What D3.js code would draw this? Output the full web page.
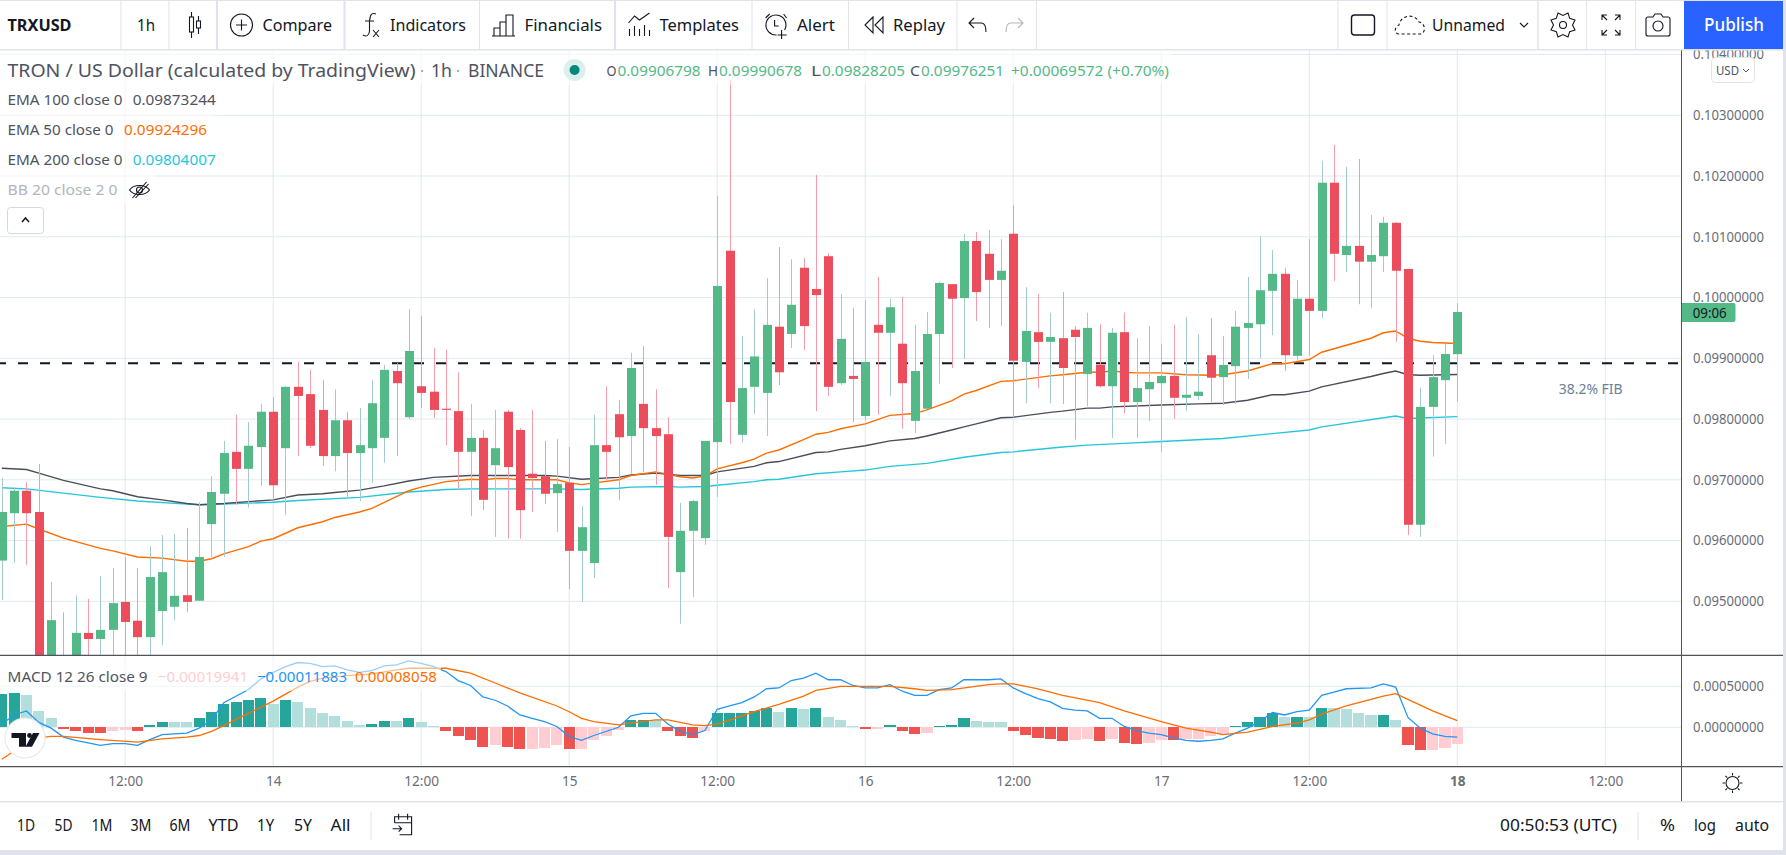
<!DOCTYPE html>
<html>
<head>
<meta charset="utf-8">
<title>TRXUSD</title>
<script src="https://cdnjs.cloudflare.com/ajax/libs/d3/7.8.5/d3.min.js"></script>
<style>
    html, body { margin: 0; padding: 0; background: #e0e3eb; overflow: hidden; }
    svg { display: block; }
    text { font-family: "Noto Sans", sans-serif; }
</style>
</head>
<body>
<svg id="chart" width="1786" height="855"></svg>
<script>
// hourly bars, first bar is the 13th 02:00, last one the 18th 00:00
const firstHour = 2

const opens = [0.09567,0.09645,0.09682,0.09647,0.09400,0.09400,0.09380,0.09448,0.09438,0.09453,0.09499,0.09468,0.09441,0.09484,0.09491,0.09510,0.09501,0.09627,0.09677,0.09746,
    0.09718,0.09754,0.09812,0.09752,0.09853,0.09841,0.09815,0.09739,0.09798,0.09744,0.09752,0.09769,0.09879,0.09803,0.09854,0.09845,0.09817,0.09813,0.09746,0.09769,
    0.09724,0.09812,0.09782,0.09710,0.09706,0.09678,0.09695,0.09583,0.09563,0.09757,0.09808,0.09772,0.09825,0.09785,0.09775,0.09548,0.09616,0.09604,0.09762,0.10077,
    0.09774,0.09853,0.09843,0.09952,0.09940,0.10049,0.10014,0.10068,0.09859,0.09871,0.09805,0.09955,0.09942,0.09924,0.09797,0.09817,0.09940,0.10022,0.09999,0.10093,
    0.10072,0.10029,0.10105,0.09894,0.09943,0.09927,0.09933,0.09947,0.09874,0.09889,0.09854,0.09943,0.09828,0.09849,0.09859,0.09871,0.09835,0.09838,0.09905,0.09869,
    0.09887,0.09950,0.09956,0.10011,0.10039,0.09904,0.09998,0.09978,0.10189,0.10070,0.10085,0.10059,0.10068,0.10123,0.10047,0.09626,0.09820,0.09864,0.09906798]
const highs = [0.09703,0.09688,0.09696,0.09726,0.09532,0.09482,0.09510,0.09504,0.09542,0.09555,0.09573,0.09555,0.09591,0.09609,0.09611,0.09621,0.09663,0.09706,0.09764,0.09807,
    0.09795,0.09825,0.09836,0.09854,0.09894,0.09881,0.09864,0.09849,0.09812,0.09818,0.09864,0.09889,0.09892,0.09981,0.09970,0.09917,0.09914,0.09877,0.09825,0.09782,
    0.09815,0.09815,0.09785,0.09815,0.09764,0.09767,0.09754,0.09657,0.09807,0.09854,0.09831,0.09909,0.09920,0.09849,0.09803,0.09662,0.09667,0.09764,0.10167,0.10358,
    0.09937,0.09981,0.10032,0.10083,0.10063,0.10065,0.10202,0.10073,0.10006,0.09983,0.09996,0.10034,0.09998,0.10001,0.09955,0.09976,0.10026,0.10022,0.10105,0.10108,
    0.10111,0.10096,0.10152,0.10017,0.10006,0.09975,0.10009,0.09953,0.09975,0.09956,0.09950,0.09975,0.09933,0.09953,0.09924,0.09955,0.09968,0.09940,0.09966,0.09937,
    0.09978,0.10034,0.10101,0.10078,0.10049,0.10029,0.10096,0.10225,0.10251,0.10215,0.10228,0.10136,0.10133,0.10124,0.10047,0.09851,0.09905,0.09924,0.09990678]
const lows = [0.09502,0.09563,0.09560,0.09360,0.09380,0.09360,0.09360,0.09380,0.09390,0.09395,0.09390,0.09390,0.09395,0.09428,0.09469,0.09482,0.09501,0.09573,0.09573,0.09659,
    0.09654,0.09690,0.09667,0.09642,0.09739,0.09752,0.09723,0.09714,0.09672,0.09665,0.09695,0.09728,0.09739,0.09800,0.09818,0.09802,0.09757,0.09685,0.09640,0.09650,
    0.09606,0.09603,0.09603,0.09647,0.09660,0.09614,0.09520,0.09499,0.09538,0.09700,0.09667,0.09710,0.09713,0.09692,0.09522,0.09463,0.09507,0.09593,0.09672,0.09759,
    0.09761,0.09808,0.09772,0.09856,0.09917,0.09914,0.09813,0.09838,0.09856,0.09795,0.09798,0.09807,0.09838,0.09784,0.09777,0.09817,0.09858,0.09884,0.09899,0.09961,
    0.09950,0.09953,0.09802,0.09826,0.09851,0.09826,0.09825,0.09766,0.09821,0.09852,0.09769,0.09810,0.09769,0.09797,0.09746,0.09800,0.09813,0.09831,0.09828,0.09823,
    0.09825,0.09866,0.09900,0.09938,0.09879,0.09897,0.09904,0.09966,0.10027,0.10042,0.09989,0.09983,0.10042,0.09927,0.09609,0.09606,0.09738,0.09759,0.09828205]
const closes = [0.09647,0.09682,0.09645,0.09387,0.09469,0.09380,0.09448,0.09438,0.09453,0.09497,0.09466,0.09441,0.09540,0.09548,0.09509,0.09499,0.09573,0.09680,0.09744,0.09718,
    0.09756,0.09812,0.09691,0.09853,0.09838,0.09756,0.09739,0.09798,0.09744,0.09757,0.09826,0.09881,0.09859,0.09912,0.09843,0.09815,0.09815,0.09746,0.09769,0.09667,
    0.09752,0.09721,0.09650,0.09703,0.09677,0.09693,0.09583,0.09622,0.09757,0.09746,0.09770,0.09884,0.09785,0.09772,0.09606,0.09616,0.09665,0.09764,0.10019,0.09828,
    0.09851,0.09903,0.09955,0.09877,0.09988,0.09953,0.10004,0.09853,0.09932,0.09866,0.09894,0.09942,0.09984,0.09859,0.09879,0.09940,0.10024,0.09998,0.10093,0.10009,
    0.10029,0.10044,0.09896,0.09945,0.09927,0.09935,0.09884,0.09935,0.09950,0.09854,0.09942,0.09828,0.09851,0.09861,0.09871,0.09835,0.09840,0.09845,0.09868,0.09889,
    0.09952,0.09958,0.10012,0.10039,0.09905,0.09998,0.09978,0.10189,0.10072,0.10085,0.10059,0.10070,0.10123,0.10044,0.09626,0.09820,0.09869,0.09907,0.09976251]

// moving averages, read at the bars where the line bends
const ema100Bars = [0,2,3,5,8,9,11,13,15,16,18,20,22,24,26,27,29,31,33,35,38,41,44,45,47,50,51,53,55,57,58,61,62,63,66,67,68,70,72,74,75,77,78,79,81,82,85,86,88,89,90,94,97,99,101,103,104,106,107,111,112,113,114,115,118]
const ema100 = [0.09719,0.09717,0.09711,0.09699,0.09685,0.09682,0.09672,0.09667,0.09661,0.09659,0.09661,0.09664,0.09667,0.09675,0.09677,0.09679,0.09683,0.09690,0.09698,0.09704,0.09707,0.09707,0.09707,0.09706,0.09701,0.09704,0.09708,0.09711,0.09707,0.09707,0.09713,0.09722,0.09728,0.09730,0.09745,0.09746,0.09750,0.09756,0.09764,0.09768,0.09772,0.09782,0.09787,0.09792,0.09802,0.09803,0.09811,0.09813,0.09818,0.09818,0.09820,0.09823,0.09825,0.09826,0.09831,0.09840,0.09840,0.09846,0.09853,0.09870,0.09875,0.09879,0.09873,0.09872,0.09873244]
const ema200Bars = [0,2,5,8,11,15,16,18,22,24,29,33,36,38,45,47,50,51,54,55,57,58,61,62,63,66,68,70,72,75,78,81,82,86,88,91,94,99,103,106,107,113,114,118]
const ema200 = [0.09687,0.09685,0.09678,0.09671,0.09665,0.09660,0.09659,0.09660,0.09663,0.09666,0.09671,0.09680,0.09684,0.09685,0.09685,0.09684,0.09686,0.09688,0.09689,0.09688,0.09689,0.09691,0.09697,0.09700,0.09701,0.09710,0.09713,0.09716,0.09722,0.09727,0.09737,0.09745,0.09746,0.09754,0.09757,0.09760,0.09763,0.09768,0.09776,0.09782,0.09787,0.09805,0.09801,0.09804007]
const ema50Bars = [0,2,3,5,8,9,11,13,15,16,17,18,20,21,22,24,26,27,29,30,33,34,36,38,39,40,41,42,45,46,47,50,51,53,55,56,57,58,60,61,62,63,65,66,67,68,70,72,74,75,77,78,79,81,82,85,86,88,89,90,91,92,94,96,98,99,101,103,104,106,107,111,112,113,114,115,116,118]
const ema50 = [0.09623,0.09627,0.09619,0.09604,0.09587,0.09583,0.09573,0.09571,0.09566,0.09566,0.09570,0.09578,0.09590,0.09599,0.09603,0.09621,0.09631,0.09638,0.09647,0.09653,0.09682,0.09688,0.09697,0.09701,0.09700,0.09702,0.09702,0.09700,0.09700,0.09695,0.09692,0.09700,0.09707,0.09713,0.09705,0.09703,0.09706,0.09718,0.09728,0.09734,0.09744,0.09749,0.09766,0.09775,0.09778,0.09784,0.09792,0.09806,0.09809,0.09815,0.09830,0.09841,0.09847,0.09862,0.09863,0.09871,0.09873,0.09877,0.09877,0.09879,0.09877,0.09876,0.09876,0.09873,0.09872,0.09873,0.09879,0.09891,0.09891,0.09898,0.09910,0.09933,0.09942,0.09945,0.09933,0.09928,0.09926,0.09924296]

const priceTicks = [0.095,0.096,0.097,0.098,0.099,0.100,0.101,0.102,0.103,0.104]
const fibLevel = 0.09892

// MACD pane
const histogram = [0.00041,0.00042,0.00039,0.00020,0.00011,-0.00002,-0.00004,-0.00007,-0.00007,-0.00004,-0.00003,-0.00004,0.00003,0.00007,0.00007,0.00007,0.00011,0.00019,0.00029,0.00031,
    0.00033,0.00036,0.00029,0.00033,0.00031,0.00024,0.00017,0.00014,0.00008,0.00003,0.00004,0.00008,0.00008,0.00011,0.00007,0.00001,-0.00004,-0.00011,-0.00015,-0.00024,
    -0.00022,-0.00024,-0.00027,-0.00026,-0.00025,-0.00022,-0.00027,-0.00027,-0.00016,-0.00010,-0.00003,0.00009,0.00009,0.00009,-0.00005,-0.00011,-0.00013,-0.00005,0.00017,0.00017,
    0.00017,0.00020,0.00024,0.00019,0.00023,0.00022,0.00023,0.00012,0.00009,0.00002,-0.00002,-0.00002,0.00003,-0.00005,-0.00008,-0.00007,0.00001,0.00003,0.00011,0.00008,
    0.00007,0.00007,-0.00005,-0.00009,-0.00013,-0.00014,-0.00017,-0.00016,-0.00014,-0.00017,-0.00014,-0.00019,-0.00020,-0.00019,-0.00016,-0.00016,-0.00014,-0.00014,-0.00010,-0.00008,
    0.00002,0.00007,0.00013,0.00018,0.00012,0.00013,0.00012,0.00024,0.00023,0.00022,0.00018,0.00015,0.00015,0.00009,-0.00022,-0.00028,-0.00028,-0.00025,-0.00019941]
// 1 = solid colour, 0 = faded colour of the histogram column
const histogramSolid = [1,1,0,0,0,1,1,1,1,0,0,1,1,1,0,0,1,1,1,1,
    1,1,0,1,0,0,0,0,0,0,1,1,0,1,0,0,1,1,1,1,
    0,1,1,0,0,0,1,0,0,0,0,1,1,0,1,1,1,0,1,1,
    1,1,1,0,1,0,1,0,0,0,1,0,1,1,1,0,1,1,1,0,
    0,0,1,1,1,1,1,0,0,1,0,1,1,0,0,1,0,0,0,0,
    1,1,1,1,0,1,0,1,0,0,0,0,1,0,1,1,0,0,0]
const macdBars = [0,1,2,3,4,5,6,8,9,10,11,12,13,15,16,17,18,20,21,22,23,24,25,26,27,28,29,30,31,32,33,34,35,36,37,38,39,40,41,42,43,44,45,46,47,48,50,51,52,53,54,55,56,57,58,59,60,61,62,63,64,65,66,67,68,69,70,71,72,73,74,75,76,77,78,79,80,81,82,83,84,85,86,87,88,89,90,91,92,93,94,95,96,97,98,99,100,101,102,103,104,105,106,107,108,109,111,112,113,114,115,116,117,118]
const macdLine = [0.00004,0.00015,0.00020,0.00006,-0.00001,-0.00012,-0.00016,-0.00022,-0.00020,-0.00020,-0.00022,-0.00015,-0.00009,-0.00007,-0.00001,0.00009,0.00030,0.00046,0.00059,0.00067,0.00074,0.00079,0.00078,0.00074,0.00075,0.00070,0.00067,0.00069,0.00075,0.00076,0.00081,0.00078,0.00074,0.00068,0.00057,0.00051,0.00037,0.00033,0.00026,0.00015,0.00011,0.00007,0.00001,-0.00011,-0.00016,-0.00010,0.00000,0.00014,0.00017,0.00017,0.00004,-0.00005,-0.00009,-0.00004,0.00022,0.00026,0.00030,0.00037,0.00047,0.00048,0.00057,0.00060,0.00066,0.00058,0.00058,0.00051,0.00048,0.00048,0.00052,0.00044,0.00039,0.00039,0.00046,0.00048,0.00058,0.00058,0.00058,0.00059,0.00048,0.00041,0.00035,0.00031,0.00023,0.00021,0.00020,0.00011,0.00011,0.00001,-0.00004,-0.00007,-0.00009,-0.00013,-0.00016,-0.00017,-0.00016,-0.00014,-0.00007,-0.00001,0.00007,0.00018,0.00015,0.00019,0.00021,0.00039,0.00043,0.00047,0.00048,0.00053,0.00049,0.00012,-0.00001,-0.00008,-0.00011,-0.00011883]
const signalBars = [0,1,3,4,5,8,11,13,15,16,17,18,20,22,24,25,26,28,30,32,33,35,36,38,40,42,45,46,47,48,50,51,53,54,56,57,58,60,61,63,65,66,68,72,74,75,77,80,81,82,84,86,89,91,94,96,98,99,101,103,105,106,107,109,111,112,113,114,116,118]
const signalLine = [-0.00039,-0.00029,-0.00013,-0.00011,-0.00011,-0.00015,-0.00018,-0.00014,-0.00012,-0.00010,-0.00005,0.00002,0.00017,0.00032,0.00049,0.00056,0.00060,0.00063,0.00065,0.00070,0.00072,0.00072,0.00072,0.00066,0.00054,0.00042,0.00026,0.00019,0.00011,0.00007,0.00003,0.00005,0.00009,0.00009,0.00003,0.00002,0.00004,0.00014,0.00019,0.00028,0.00038,0.00045,0.00050,0.00050,0.00047,0.00045,0.00046,0.00052,0.00053,0.00053,0.00047,0.00039,0.00030,0.00020,0.00007,-0.00001,-0.00006,-0.00009,-0.00006,0.00001,0.00005,0.00009,0.00016,0.00026,0.00034,0.00038,0.00041,0.00034,0.00020,0.00008058]
const macdTicks = [0, 0.0005]

const timeTicks = [12,24,36,48,60,72,84,96,108,120,132]
const timeLabels = ['12:00','14','12:00','15','12:00','16','12:00','17','12:00','18','12:00']

const rangeButtons = ['1D','5D','1M','3M','6M','YTD','1Y','5Y','All']

const upColor = '#53b987'
const downColor = '#eb4d5c'
const gridColor = '#dfe9ef'
const paneLine = '#50535e'
const textDark = '#131722'
const textGrey = '#50535e'

const x = d3.scaleLinear().domain([2, 120]).range([1.8, 1457.3])
const y = d3.scaleLinear().domain([0.095, 0.104]).range([601.3, 54.5])
const yMacd = d3.scaleLinear().domain([0, 0.0005]).range([727.3, 686.3])
const barX = i => x(firstHour + i)

const svg = d3.select('#chart')

svg.append('rect').attr('x', 0).attr('y', 1).attr('width', 1783).attr('height', 849).attr('fill', '#fff')

const defs = svg.append('defs')
defs.append('clipPath').attr('id', 'main-clip').append('rect').attr('x', 0).attr('y', 50).attr('width', 1681).attr('height', 605)
defs.append('clipPath').attr('id', 'macd-clip').append('rect').attr('x', 0).attr('y', 656).attr('width', 1681).attr('height', 110)
defs.append('clipPath').attr('id', 'scale-clip').append('rect').attr('x', 1682).attr('y', 50).attr('width', 101).attr('height', 605)

// G R I D
const grid = svg.append('g').attr('stroke', gridColor).attr('stroke-width', 1)
grid.selectAll('line.v').data(timeTicks).enter().append('line')
    .attr('class', 'v')
    .attr('x1', d => x(d)).attr('x2', d => x(d))
    .attr('y1', 50).attr('y2', 766)
grid.selectAll('line.h').data(priceTicks).enter().append('line')
    .attr('class', 'h')
    .attr('x1', 0).attr('x2', 1681)
    .attr('y1', d => y(d)).attr('y2', d => y(d))
grid.selectAll('line.m').data(macdTicks).enter().append('line')
    .attr('class', 'm')
    .attr('x1', 0).attr('x2', 1681)
    .attr('y1', d => yMacd(d)).attr('y2', d => yMacd(d))

// M A I N  P A N E
const main = svg.append('g').attr('clip-path', 'url(#main-clip)')

main.append('line')
    .attr('x1', -4).attr('x2', 1678)
    .attr('y1', y(fibLevel)).attr('y2', y(fibLevel))
    .attr('stroke', textDark)
    .attr('stroke-width', 2)
    .attr('stroke-dasharray', '10 12')

const priceLine = d3.line().x(d => barX(d[0])).y(d => y(d[1]))
const drawEma = (bars, values, color) => {
    main.append('path')
        .attr('d', priceLine(bars.map((b, i) => [b, values[i]])))
        .attr('fill', 'none')
        .attr('stroke', color)
        .attr('stroke-width', 1.4)
}
drawEma(ema200Bars, ema200, '#26c6da')
drawEma(ema100Bars, ema100, '#4a4d5a')
drawEma(ema50Bars, ema50, '#ff6d00')

const candles = main.selectAll('g.candle')
    .data(d3.range(opens.length))
    .enter()
    .append('g')
    .attr('class', 'candle')

candles.append('line')
    .attr('x1', i => Math.round(barX(i)) + 0.5)
    .attr('x2', i => Math.round(barX(i)) + 0.5)
    .attr('y1', i => y(highs[i]))
    .attr('y2', i => y(lows[i]))
    .attr('stroke', i => closes[i] >= opens[i] ? '#a3cbce' : '#f59cab')
    .attr('stroke-width', 1)

candles.append('rect')
    .attr('x', i => Math.round(barX(i)) - 4)
    .attr('width', 9)
    .attr('y', i => y(Math.max(opens[i], closes[i])))
    .attr('height', i => Math.max(1, Math.abs(y(opens[i]) - y(closes[i]))))
    .attr('fill', i => closes[i] >= opens[i] ? upColor : downColor)

// M A C D  P A N E
const macdPane = svg.append('g').attr('clip-path', 'url(#macd-clip)')

macdPane.selectAll('rect')
    .data(histogram)
    .enter()
    .append('rect')
    .attr('x', (d, i) => barX(i) - 5.6)
    .attr('width', 11.2)
    .attr('y', d => Math.min(yMacd(d), yMacd(0)))
    .attr('height', d => Math.abs(yMacd(d) - yMacd(0)))
    .attr('shape-rendering', 'crispEdges')
    .attr('fill', (d, i) => d >= 0
        ? (histogramSolid[i] ? '#26a69a' : '#b2dfdb')
        : (histogramSolid[i] ? '#ef5350' : '#ffcdd2'))

const macdPath = d3.line().x(d => barX(d[0])).y(d => yMacd(d[1]))
macdPane.append('path')
    .attr('d', macdPath(macdBars.map((b, i) => [b, macdLine[i]])))
    .attr('fill', 'none').attr('stroke', '#2196f3').attr('stroke-width', 1.3)
macdPane.append('path')
    .attr('d', macdPath(signalBars.map((b, i) => [b, signalLine[i]])))
    .attr('fill', 'none').attr('stroke', '#ff6d00').attr('stroke-width', 1.3)

// pane separators
const seps = svg.append('g')
seps.selectAll('line').data([655.3, 766.7]).enter().append('line')
    .attr('x1', 0).attr('x2', 1783)
    .attr('y1', d => d).attr('y2', d => d)
    .attr('stroke', paneLine).attr('stroke-width', 1.3)

// A X E S
const styleAxis = g => {
    g.select('.domain').remove()
    g.selectAll('text')
        .attr('fill', '#6a6d78')
        .style('font-size', '13.6px')
        .attr('textLength', 71)
        .attr('lengthAdjust', 'spacingAndGlyphs')
}
svg.append('g')
    .attr('clip-path', 'url(#scale-clip)')
    .append('g')
    .attr('transform', 'translate(1682,0)')
    .call(d3.axisRight(y).tickValues(priceTicks).tickFormat(d3.format('.8f')).tickSize(0).tickPadding(11))
    .call(styleAxis)
svg.append('g')
    .attr('transform', 'translate(1682,0)')
    .call(d3.axisRight(yMacd).tickValues(macdTicks).tickFormat(d3.format('.8f')).tickSize(0).tickPadding(11))
    .call(styleAxis)

const timeAxis = svg.append('g')
    .attr('transform', 'translate(0,767)')
    .call(d3.axisBottom(x).tickValues(timeTicks).tickFormat((d, i) => timeLabels[i]).tickSize(0).tickPadding(9))
timeAxis.select('.domain').remove()
timeAxis.selectAll('text')
    .attr('fill', '#6a6d78')
    .style('font-size', '13.6px')
    .style('font-weight', d => d === 120 ? 700 : 400)

svg.append('line').attr('x1', 1681.5).attr('x2', 1681.5).attr('y1', 50).attr('y2', 802).attr('stroke', paneLine).attr('stroke-width', 1)
svg.append('line').attr('x1', 0).attr('x2', 1783).attr('y1', 801.7).attr('y2', 801.7).attr('stroke', '#e0e3eb').attr('stroke-width', 1.5)

// T E X T  H E L P E R
const label = (text, px, py, o = {}) => {
    const t = svg.append('text')
        .attr('x', px)
        .attr('y', py)
        .attr('dy', '0.35em')
        .attr('fill', o.color || textGrey)
        .attr('text-anchor', o.anchor || 'start')
        .style('font-size', (o.size || 14) + 'px')
        .style('font-weight', o.weight || 400)
        .text(text)
    if (o.width) {
        t.attr('textLength', o.width).attr('lengthAdjust', 'spacingAndGlyphs')
    }
    return t
}

// L E G E N D
// the legend rows sit on half transparent white, so the chart shows through faintly
const legendRows = [[1172, 50, 35], [221, 85, 30], [213, 115, 30], [221, 145, 30], [155, 175, 30], [441, 657, 34]]
svg.selectAll('rect.legend-row').data(legendRows).enter().append('rect')
    .attr('class', 'legend-row')
    .attr('x', 0)
    .attr('width', d => d[0])
    .attr('y', d => d[1])
    .attr('height', d => d[2])
    .attr('fill', '#fff')
    .attr('opacity', 0.55)

label('TRON / US Dollar (calculated by TradingView)', 7.5, 70.5, { size: 18, width: 408, color: '#4f5360' })
label('·', 420, 70.5, { size: 15, color: '#9598a1' })
label('1h', 431, 70.5, { size: 18, width: 21, color: '#4f5360' })
label('·', 456, 70.5, { size: 15, color: '#9598a1' })
label('BINANCE', 468, 70.5, { size: 18, width: 76, color: '#4f5360' })
svg.append('circle').attr('cx', 574.6).attr('cy', 70).attr('r', 11).attr('fill', '#dcefec')
svg.append('circle').attr('cx', 574.6).attr('cy', 70).attr('r', 5).attr('fill', '#00897b')

const ohlcRow = [['O', 606.5, '0.09906798'], ['H', 708, '0.09990678'], ['L', 811, '0.09828205'], ['C', 910, '0.09976251']]
ohlcRow.forEach(d => {
    label(d[0], d[1], 71, { size: 15, width: 10, color: '#50535e' })
    label(d[2], d[1] + 11, 71, { size: 15, width: 83, color: upColor })
})
label('+0.00069572 (+0.70%)', 1011, 71, { size: 15, width: 158, color: upColor })

label('EMA 100 close 0', 7.5, 100, { width: 115 })
label('0.09873244', 132.7, 100, { width: 83, size: 15 })
label('EMA 50 close 0', 7.5, 130, { width: 106 })
label('0.09924296', 124, 130, { width: 83, size: 15, color: '#ff6d00' })
label('EMA 200 close 0', 7.5, 160, { width: 115 })
label('0.09804007', 132.7, 160, { width: 83, size: 15, color: '#26c6da' })
label('BB 20 close 2 0', 7.5, 190, { width: 110, color: '#b2b5be' })

const outline = sel => sel.attr('fill', 'none').attr('stroke', textDark).attr('stroke-width', 1.1)

const eye = svg.append('g').attr('transform', 'translate(139.5,190)')
eye.append('path').attr('d', 'M-10 0C-6 -6 6 -6 10 0C6 6 -6 6 -10 0Z').call(outline)
eye.append('circle').attr('r', 3).call(outline)
eye.append('path').attr('d', 'M-7 8L7 -8M-4 8L9 -6').call(outline)

svg.append('rect').attr('x', 7.5).attr('y', 207.5).attr('width', 36).attr('height', 26).attr('rx', 3)
    .attr('fill', '#fff').attr('stroke', '#d6d8e0')
svg.append('path').attr('d', 'M22 222L25.5 218L29 222').attr('fill', 'none').attr('stroke', textDark).attr('stroke-width', 1.5)

label('MACD 12 26 close 9', 7.6, 677, { width: 140, size: 14.5 })
label('−0.00019941', 158, 677, { width: 90, size: 15, color: '#ffcdd2' })
label('−0.00011883', 257, 677, { width: 90, size: 15, color: '#2196f3' })
label('0.00008058', 355, 677, { width: 82, size: 15, color: '#ff6d00' })

label('38.2% FIB', 1590.7, 388.7, { anchor: 'middle', width: 64, color: '#6c7f96' })

// USD button and last price tag
svg.append('rect').attr('x', 1711.5).attr('y', 57.5).attr('width', 43).attr('height', 25).attr('rx', 4)
    .attr('fill', '#fff').attr('stroke', '#e0e3eb')
label('USD', 1716, 70, { size: 13, width: 23 })
svg.append('path').attr('d', 'M1743 69L1746 72L1749 69').attr('fill', 'none').attr('stroke', textGrey)

svg.append('path').attr('d', 'M1682 303H1733.5a2 2 0 0 1 2 2V320a2 2 0 0 1 -2 2H1682Z').attr('fill', upColor)
label('09:06', 1692.7, 313, { width: 34, size: 14, color: textDark })

// T R A D I N G V I E W  L O G O
svg.append('circle').attr('cx', 25).attr('cy', 738).attr('r', 20).attr('fill', '#fff').attr('stroke', '#e8e9ee').attr('stroke-width', 1.2)
svg.append('path').attr('d', 'M11.5 733H26V746.7H19V738H11.5ZM33 733H39.5L32 746.7H25.5Z').attr('fill', textDark)
svg.append('circle').attr('cx', 29.5).attr('cy', 735.5).attr('r', 2.4).attr('fill', textDark)

// T O O L B A R
const toolbarSeps = [[121, 1], [169, 1], [217, 2], [344.5, 2], [479.5, 1], [615, 2], [752, 1], [848.5, 1], [957, 1], [1036.5, 1], [1338, 1], [1387, 1], [1538, 1.5], [1586.6, 1], [1635.6, 1]]
svg.selectAll('line.tb').data(toolbarSeps).enter().append('line')
    .attr('class', 'tb')
    .attr('x1', d => d[0]).attr('x2', d => d[0])
    .attr('y1', 1).attr('y2', 49)
    .attr('stroke', '#e0e3eb').attr('stroke-width', d => d[1])
svg.append('rect').attr('x', 0).attr('y', 49).attr('width', 1783).attr('height', 1.5).attr('fill', '#e0e3eb')

label('TRXUSD', 7.5, 25, { size: 16, width: 64, weight: 700, color: textDark })
label('1h', 137, 25, { size: 16, width: 18, color: textDark })
label('Compare', 262.5, 25, { size: 16, width: 69.5, color: textDark })
label('Indicators', 390, 25, { size: 16, width: 76, color: textDark })
label('Financials', 524.5, 25, { size: 16, width: 77.5, color: textDark })
label('Templates', 659.5, 25, { size: 16, width: 79.5, color: textDark })
label('Alert', 797, 25, { size: 16, width: 38, color: textDark })
label('Replay', 893, 25, { size: 16, width: 52, color: textDark })
label('Unnamed', 1432, 25, { size: 16, width: 73, color: textDark })

svg.append('rect').attr('x', 1684).attr('y', 1).attr('width', 99).attr('height', 48).attr('fill', '#2962ff')
label('Publish', 1734, 25, { size: 18, width: 60, anchor: 'middle', color: '#fff', weight: 500 })

const icon = (px, py) => svg.append('g').attr('transform', `translate(${px},${py})`)

// candle type
const candleIcon = icon(195, 25)
candleIcon.append('rect').attr('x', -5.5).attr('y', -8).attr('width', 4).attr('height', 15).call(outline)
candleIcon.append('path').attr('d', 'M-3.5 -13V-8M-3.5 7V13M3.5 -9V-4M3.5 3V9').call(outline)
candleIcon.append('rect').attr('x', 1.5).attr('y', -4).attr('width', 4).attr('height', 7).call(outline)

// compare
const plusIcon = icon(241.5, 25)
plusIcon.append('circle').attr('r', 11).call(outline)
plusIcon.append('path').attr('d', 'M-5.5 0H5.5M0 -5.5V5.5').call(outline)

// indicators
const fxIcon = icon(370, 25)
fxIcon.append('path').attr('d', 'M6 -11C1 -13 0 -9 -0.5 -4V6C-1 11 -4 12 -7 10M-5 -4H4').call(outline)
fxIcon.append('path').attr('d', 'M3 5L9 12M9 5L3 12').call(outline)

// financials
icon(504, 25).append('path').attr('d', 'M-10 11V3H-4V11ZM-4 11V-3H2V11ZM2 11V-10H9V11ZM-12 11H11').call(outline)

// templates
const tplIcon = icon(639.5, 25)
tplIcon.append('path').attr('d', 'M-11 -2L-5 -9L0 -5L10 -12').call(outline)
tplIcon.append('path').attr('d', 'M-10 4V11M-5 1V11M0 4V11M5 0V11M10 5V11').call(outline)

// alert
const alertIcon = icon(775.6, 25)
alertIcon.append('path').attr('d', 'M1 10A10 10 0 1 1 9 5').call(outline)
alertIcon.append('path').attr('d', 'M-1 -5V1H3M-10 -7L-6 -11M8 -11L11 -7M6 5V14M2 10H11').call(outline)

// replay
icon(874, 25).append('path').attr('d', 'M-1 -8L-9 0L-1 8ZM9 -8L1 0L9 8Z').call(outline)

// undo, redo
icon(978, 25).append('path').attr('d', 'M-4 -7L-9 -2L-4 3M-9 -2H3C7 -2 8 2 8 7').call(outline)
icon(1014, 25).append('path').attr('d', 'M4 -7L9 -2L4 3M9 -2H-3C-7 -2 -8 2 -8 7').call(outline).attr('stroke', '#b2b5be')

// watchlist square, cloud
svg.append('rect').attr('x', 1351.5).attr('y', 15).attr('width', 23).attr('height', 20).attr('rx', 3).call(outline).attr('stroke-width', 1.4)
icon(1410, 25).append('path').attr('d', 'M-11 9C-16 9 -16 2 -11 0C-10 -9 4 -13 9 -3C16 -2 16 9 10 9Z').call(outline).attr('stroke-dasharray', '3 2.5')
icon(1524, 25).append('path').attr('d', 'M-4 -2L0 2L4 -2').call(outline)

// settings
const gearIcon = icon(1563, 25)
gearIcon.append('path').attr('d', d3.range(16).map(k => {
    const r = k % 2 ? 13 : 9.5
    const a = k * Math.PI / 8
    return (k ? 'L' : 'M') + (r * Math.cos(a)).toFixed(1) + ' ' + (r * Math.sin(a)).toFixed(1)
}).join('') + 'Z').call(outline)
gearIcon.append('circle').attr('r', 3.5).call(outline)

// fullscreen
icon(1611, 25).append('path').attr('d', 'M-9 -5V-10H-4M-9 -10L-4 -5M9 -5V-10H4M9 -10L4 -5M-9 5V10H-4M-9 10L-4 5M9 5V10H4M9 10L4 5').call(outline)

// screenshot
const camIcon = icon(1658, 25)
camIcon.append('path').attr('d', 'M-10 -8H-5L-3 -11H3L5 -8H10Q12 -8 12 -6V9Q12 11 10 11H-10Q-12 11 -12 9V-6Q-12 -8 -10 -8Z').call(outline)
camIcon.append('circle').attr('cy', 1).attr('r', 5).call(outline)

// B O T T O M  B A R
const rangeCenters = [26, 63.5, 102, 141, 180, 223.5, 265.6, 303, 340.6]
const rangeWidths = [18, 18, 21, 21, 21, 30, 17, 18, 20]
rangeButtons.forEach((d, i) => {
    label(d, rangeCenters[i], 825.7, { size: 15.5, anchor: 'middle', width: rangeWidths[i], color: textDark })
})
svg.append('line').attr('x1', 371).attr('x2', 371).attr('y1', 812).attr('y2', 840).attr('stroke', '#e0e3eb')
const calIcon = icon(402.6, 825.7)
calIcon.append('path').attr('d', 'M-8 -3V-9H9V9H-3M-8 -3H9M-4 -12V-6M5 -12V-6M-10 3H-1M-4 0L-1 3L-4 6').call(outline)

label('00:50:53 (UTC)', 1500, 825.7, { size: 16, width: 117, color: textDark })
svg.append('line').attr('x1', 1638).attr('x2', 1638).attr('y1', 812).attr('y2', 840).attr('stroke', '#e0e3eb')
label('%', 1667.4, 825.7, { size: 16, anchor: 'middle', width: 15, color: textDark })
label('log', 1705, 825.7, { size: 16, anchor: 'middle', width: 22, color: textDark })
label('auto', 1752, 825.7, { size: 16, anchor: 'middle', width: 34, color: textDark })

const sun = icon(1732.5, 783)
sun.append('circle').attr('r', 6.5).call(outline)
sun.append('path').attr('d', d3.range(8).map(k => {
    const a = k * Math.PI / 4
    return 'M' + (7.5 * Math.cos(a)).toFixed(1) + ' ' + (7.5 * Math.sin(a)).toFixed(1) + 'L' + (10 * Math.cos(a)).toFixed(1) + ' ' + (10 * Math.sin(a)).toFixed(1)
}).join('')).call(outline)
</script>
</body>
</html>
